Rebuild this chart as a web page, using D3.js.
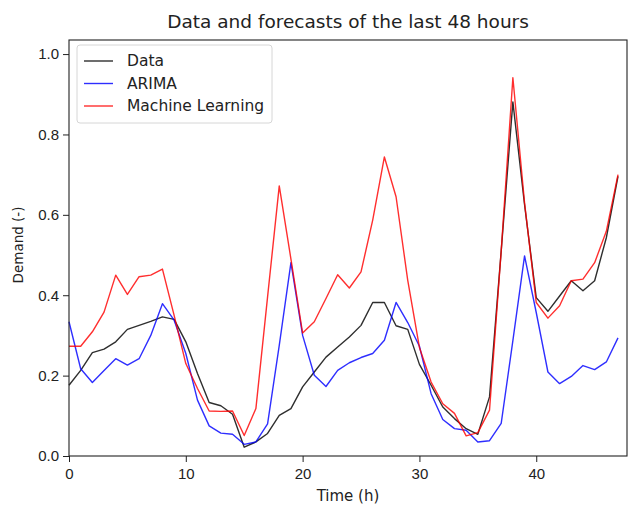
<!DOCTYPE html>
<html>
<head>
<meta charset="utf-8">
<script src="https://cdn.jsdelivr.net/npm/d3@7"></script>
<style>
  body { margin: 0; background: #fff; }
  svg { font-family: "DejaVu Sans", sans-serif; }
</style>
</head>
<body>
<div id="chart"></div>
<script>
// hours 0..47
const hours = d3.range(48);

const dataSeries = [0.176, 0.213, 0.257, 0.266, 0.284, 0.315, 0.325, 0.335, 0.346, 0.340,
    0.284, 0.205, 0.133, 0.125, 0.104, 0.022, 0.035, 0.056, 0.101, 0.118,
    0.172, 0.209, 0.246, 0.271, 0.296, 0.325, 0.382, 0.382, 0.324, 0.315,
    0.228, 0.176, 0.122, 0.093, 0.068, 0.054, 0.147, 0.51, 0.881, 0.625,
    0.394, 0.360, 0.398, 0.436, 0.411, 0.436, 0.543, 0.696];

const arimaSeries = [0.334, 0.217, 0.183, 0.213, 0.242, 0.226, 0.242, 0.300, 0.379, 0.338,
    0.255, 0.139, 0.075, 0.057, 0.054, 0.029, 0.035, 0.080, 0.275, 0.481,
    0.300, 0.201, 0.173, 0.213, 0.232, 0.245, 0.255, 0.288, 0.382, 0.332,
    0.273, 0.155, 0.091, 0.068, 0.064, 0.035, 0.038, 0.081, 0.287, 0.498,
    0.357, 0.209, 0.180, 0.198, 0.225, 0.215, 0.234, 0.294];

const mlSeries = [0.273, 0.273, 0.309, 0.358, 0.450, 0.402, 0.446, 0.450, 0.465, 0.350,
    0.230, 0.168, 0.112, 0.111, 0.112, 0.051, 0.118, 0.396, 0.672, 0.490,
    0.306, 0.334, 0.392, 0.451, 0.418, 0.458, 0.587, 0.744, 0.645, 0.437,
    0.27, 0.184, 0.130, 0.106, 0.050, 0.058, 0.114, 0.51, 0.941, 0.63,
    0.382, 0.343, 0.374, 0.436, 0.440, 0.481, 0.559, 0.700];

const xTicks = [0, 10, 20, 30, 40];
const yTicks = [0.0, 0.2, 0.4, 0.6, 0.8, 1.0];

const series = [
    { name: "Data", values: dataSeries, color: "#000000" },
    { name: "ARIMA", values: arimaSeries, color: "#0000ff" },
    { name: "Machine Learning", values: mlSeries, color: "#ff0000" }
];

const width = 628, height = 505;
const margin = { top: 40, right: 1, bottom: 49, left: 69 };

const svg = d3.select("#chart").append("svg")
    .attr("width", width)
    .attr("height", height);

const x = d3.scaleLinear().domain([0, 47.77]).range([margin.left, width - margin.right]);
const y = d3.scaleLinear().domain([0, 1.035]).range([height - margin.bottom, margin.top]);

// lines
const line = d3.line()
    .x((d, i) => x(hours[i]))
    .y(d => y(d));

svg.append("g")
    .selectAll("path")
    .data(series)
    .join("path")
    .attr("d", d => line(d.values))
    .attr("fill", "none")
    .attr("stroke", d => d.color)
    .attr("stroke-opacity", 0.82)
    .attr("stroke-width", 1.4)
    .attr("stroke-linejoin", "round");

// axes
const xAxis = svg.append("g")
    .attr("transform", `translate(0,${height - margin.bottom})`)
    .call(d3.axisBottom(x).tickValues(xTicks).tickFormat(d3.format("d")).tickSize(6).tickPadding(6));

const yAxis = svg.append("g")
    .attr("transform", `translate(${margin.left},0)`)
    .call(d3.axisLeft(y).tickValues(yTicks).tickFormat(d3.format(".1f")).tickSize(6).tickPadding(4));

[xAxis, yAxis].forEach(a => {
    a.select(".domain").remove();
    a.selectAll("line").attr("stroke", "#222");
    a.selectAll("text").attr("fill", "#222").style("font-size", "15px");
});

// frame
svg.append("rect")
    .attr("x", margin.left)
    .attr("y", margin.top)
    .attr("width", width - margin.right - margin.left)
    .attr("height", height - margin.bottom - margin.top)
    .attr("fill", "none")
    .attr("stroke", "#222")
    .attr("stroke-width", 1.1);

// title and labels
svg.append("text")
    .attr("x", (margin.left + width - margin.right) / 2)
    .attr("y", 28)
    .attr("text-anchor", "middle")
    .attr("fill", "#222")
    .style("font-size", "18.5px")
    .text("Data and forecasts of the last 48 hours");

svg.append("text")
    .attr("x", (margin.left + width - margin.right) / 2)
    .attr("y", 501)
    .attr("text-anchor", "middle")
    .attr("fill", "#222")
    .style("font-size", "15px")
    .text("Time (h)");

svg.append("text")
    .attr("transform", `translate(23,245) rotate(-90)`)
    .attr("text-anchor", "middle")
    .attr("fill", "#222")
    .style("font-size", "13.5px")
    .text("Demand (-)");

// legend
const legend = svg.append("g").attr("transform", "translate(77,45)");
legend.append("rect")
    .attr("width", 195)
    .attr("height", 78)
    .attr("rx", 3)
    .attr("fill", "#fff")
    .attr("fill-opacity", 0.8)
    .attr("stroke", "#d6d6d6");

const item = legend.selectAll("g.item")
    .data(series)
    .join("g")
    .attr("class", "item")
    .attr("transform", (d, i) => `translate(0,${16 + i * 22.5})`);

item.append("line")
    .attr("x1", 7).attr("x2", 36)
    .attr("stroke", d => d.color)
    .attr("stroke-opacity", 0.82)
    .attr("stroke-width", 1.4);

item.append("text")
    .attr("x", 50)
    .attr("dy", "0.35em")
    .attr("fill", "#222")
    .style("font-size", "15.5px")
    .text(d => d.name);
</script>
</body>
</html>
